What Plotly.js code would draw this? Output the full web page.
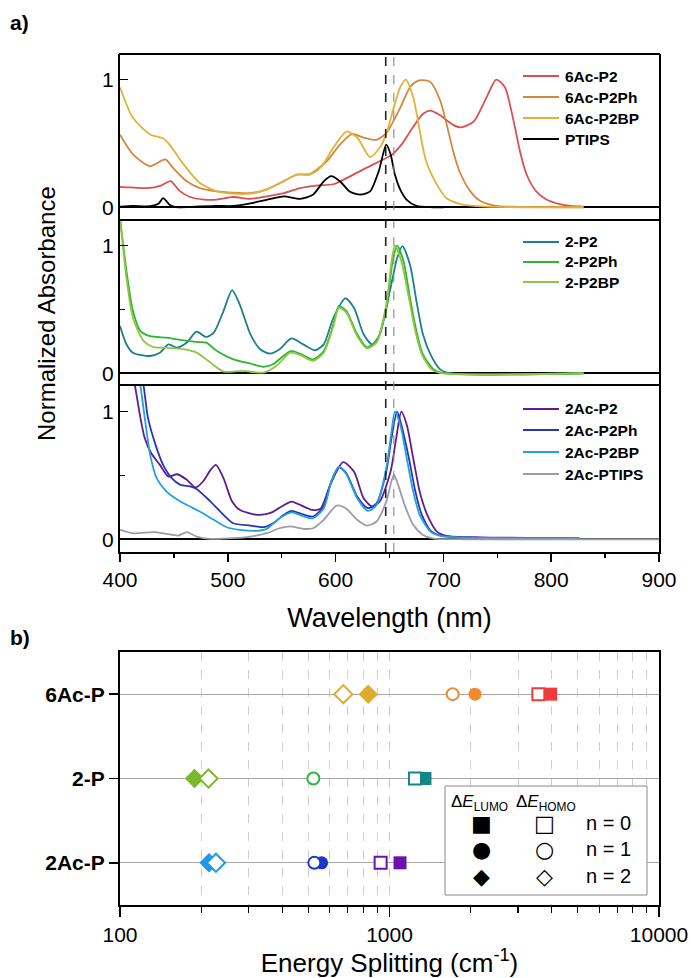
<!DOCTYPE html>
<html><head><meta charset="utf-8">
<script src="https://cdn.plot.ly/plotly-3.0.1.min.js"></script>
<style>html,body{margin:0;padding:0;background:#fff}#chart{width:691px;height:978px}</style>
</head><body><div id="chart"></div><script>
// ---------- Panel a data (wavelength nm / normalized absorbance) ----------
const wl_6AcP2   = [400,410,425,438,447,455,465,478,490,505,520,536,552,567,582,598,613,629,641,652,662,672,681,688,697,709,716,728,740,749,757,765,771,777,786,796,808,818,830];
const ab_6AcP2   = [0.16,0.155,0.15,0.17,0.205,0.13,0.08,0.06,0.06,0.08,0.065,0.085,0.11,0.15,0.17,0.18,0.24,0.31,0.36,0.41,0.50,0.63,0.73,0.757,0.72,0.645,0.625,0.67,0.86,1.0,0.94,0.68,0.44,0.26,0.125,0.058,0.024,0.01,0.005];
const wl_6AcP2Ph = [400,412,428,442,449,462,474,490,505,520,536,552,564,576,592,604,615,626,638,647,654,660,669,676,681,688,697,703,709,715,725,734,749,770,830];
const ab_6AcP2Ph = [0.567,0.414,0.322,0.375,0.31,0.203,0.15,0.125,0.115,0.11,0.14,0.205,0.255,0.26,0.362,0.49,0.573,0.546,0.528,0.58,0.68,0.78,0.94,0.99,0.995,0.98,0.836,0.65,0.44,0.28,0.124,0.05,0.01,0.003,0.0];
const wl_6AcP2BP = [400,412,428,440,446,459,474,490,505,521,536,552,564,576,586,598,610,620,632,641,647,654,660,665,672,678,684,694,703,718,740,830];
const ab_6AcP2BP = [0.94,0.70,0.57,0.54,0.49,0.335,0.19,0.124,0.106,0.106,0.138,0.203,0.256,0.256,0.31,0.467,0.593,0.546,0.393,0.467,0.573,0.78,0.94,1.0,0.862,0.6,0.36,0.177,0.07,0.02,0.005,0.0];
const wl_PTIPS   = [400,412,428,436,440,446,452,470,490,505,521,536,552,567,579,589,596,604,613,623,632,640,647,651,655,660,666,675,690,700];
const ab_PTIPS   = [0.005,0.01,0.008,0.03,0.071,0.02,0.0,0.005,0.01,0.01,0.03,0.058,0.085,0.066,0.098,0.203,0.243,0.203,0.124,0.098,0.124,0.282,0.49,0.415,0.256,0.138,0.058,0.01,0.0,0.0];

const wl_2P2   = [400,406,412,428,437,445,453,462,471,480,487,496,504,511,521,530,539,548,559,570,581,589,598,609,617,626,634,641,651,657,662,669,675,681,688,697,706,830];
const ab_2P2   = [0.37,0.227,0.16,0.135,0.16,0.226,0.2,0.24,0.325,0.284,0.318,0.487,0.651,0.54,0.305,0.188,0.153,0.188,0.273,0.226,0.18,0.226,0.434,0.586,0.513,0.305,0.226,0.305,0.669,0.90,0.995,0.85,0.565,0.305,0.148,0.03,0.0,0.0];
const wl_2P2Ph = [400,406,412,419,428,443,453,471,480,490,505,521,533,542,558,567,579,589,598,603,610,620,629,638,647,653,657,663,669,675,681,691,700,830];
const ab_2P2Ph = [1.22,0.8,0.487,0.33,0.29,0.278,0.265,0.245,0.24,0.174,0.109,0.075,0.05,0.07,0.174,0.153,0.109,0.174,0.383,0.526,0.487,0.305,0.205,0.252,0.513,0.88,1.0,0.877,0.59,0.33,0.148,0.03,0.0,0.0];
const wl_2P2BP = [400,406,412,422,431,443,459,471,484,496,514,533,545,558,567,579,589,598,603,610,620,629,638,647,652,655,661,668,674,680,689,698,830];
const ab_2P2BP = [1.22,0.747,0.434,0.252,0.205,0.2,0.188,0.161,0.083,0.013,0.018,0.005,0.057,0.161,0.143,0.096,0.161,0.37,0.513,0.474,0.291,0.195,0.24,0.539,0.88,1.0,0.877,0.59,0.33,0.148,0.03,0.0,0.0];

const wl_2AcP2    = [400,408,414,419,423,429,437,445,453,462,470,477,484,489,496,504,511,527,539,550,559,569,578,586,595,607,617,626,634,641,651,656,661,666,672,678,685,694,703,734,780,826];
const ab_2AcP2    = [1.9,1.45,1.196,0.948,0.79,0.673,0.582,0.491,0.509,0.465,0.405,0.452,0.543,0.582,0.478,0.295,0.23,0.191,0.204,0.256,0.295,0.261,0.23,0.238,0.426,0.603,0.53,0.321,0.256,0.295,0.53,0.78,1.0,0.896,0.634,0.374,0.191,0.06,0.027,0.015,0.01,0.008];
const wl_2AcP2Ph  = [400,412,422,426,433,440,448,456,465,471,484,496,505,521,533,542,552,559,569,579,589,596,603,610,620,630,638,647,652,657,661,668,674,680,689,699,730,826];
const ab_2AcP2Ph  = [2.5,1.7,1.196,0.948,0.739,0.582,0.478,0.426,0.413,0.394,0.295,0.191,0.125,0.107,0.094,0.125,0.191,0.222,0.196,0.178,0.256,0.452,0.564,0.517,0.334,0.243,0.282,0.53,0.8,1.0,0.896,0.634,0.374,0.191,0.06,0.027,0.012,0.008];
const wl_2AcP2BP  = [400,412,419,423,428,434,443,456,465,474,487,499,511,527,536,548,559,569,579,589,596,603,610,620,630,638,647,652,655,660,666,672,678,688,697,730,826];
const ab_2AcP2BP  = [2.2,1.5,1.196,0.948,0.661,0.478,0.374,0.295,0.256,0.217,0.152,0.094,0.074,0.066,0.081,0.164,0.211,0.183,0.164,0.243,0.452,0.569,0.509,0.321,0.222,0.269,0.556,0.85,1.0,0.896,0.634,0.374,0.191,0.06,0.027,0.012,0.008];
const wl_2AcPTIPS = [400,412,431,443,454,462,471,484,505,521,536,548,558,570,579,589,601,610,620,629,638,647,654,658,664,672,681,691,720,900];
const ab_2AcPTIPS = [0.074,0.047,0.055,0.042,0.029,0.055,0.021,0.003,0.008,0.021,0.047,0.086,0.1,0.081,0.086,0.152,0.264,0.238,0.152,0.107,0.139,0.295,0.504,0.426,0.269,0.113,0.034,0.005,0.0,0.0];

const wlTicks = [400,500,600,700,800,900];
const guideLines = [646.5, 654];

// ---------- Panel b data (energy splitting, cm^-1) ----------
const compounds = ['2Ac-P','2-P','6Ac-P'];   // bottom to top
const lumo_n0 = [1094, 1354, 3963];
const homo_n0 = [927, 1243, 3567];
const lumo_n1 = [560, 522, 2076];
const homo_n1 = [526, 522, 1716];
const lumo_n2 = [214, 189, 834];
const homo_n2 = [227, 213, 674];
const colors_n0 = ['#6a12b0', '#138787', '#ef3b3b'];
const colors_n1 = ['#1c36cf', '#2eb83e', '#f08a2e'];
const colors_n2 = ['#1e9be0', '#7ab82c', '#dcac2c'];

// ---------- layout helpers ----------
const W = 691, H = 978;
const px = x => x / W;
const py = y => 1 - y / H;
const FONT = 'Arial, "Liberation Sans", sans-serif';

function spec(name, wl, ab, color, yax) {
  return {type:'scatter', mode:'lines', name:name, x:wl, y:ab, xaxis:'x', yaxis:yax, showlegend:false,
    line:{color:color, width:1.8, shape:'spline', smoothing:0.7}, hoverinfo:'x+y+name'};
}

const panelSeries = [
  [spec('6Ac-P2', wl_6AcP2, ab_6AcP2, '#db4e52', 'y'),
   spec('6Ac-P2Ph', wl_6AcP2Ph, ab_6AcP2Ph, '#d4883e', 'y'),
   spec('6Ac-P2BP', wl_6AcP2BP, ab_6AcP2BP, '#e1b23a', 'y'),
   spec('PTIPS', wl_PTIPS, ab_PTIPS, '#000000', 'y')],
  [spec('2-P2', wl_2P2, ab_2P2, '#1b7f8c', 'y2'),
   spec('2-P2Ph', wl_2P2Ph, ab_2P2Ph, '#2fb534', 'y2'),
   spec('2-P2BP', wl_2P2BP, ab_2P2BP, '#8dc63f', 'y2')],
  [spec('2Ac-P2', wl_2AcP2, ab_2AcP2, '#5e1d91', 'y3'),
   spec('2Ac-P2Ph', wl_2AcP2Ph, ab_2AcP2Ph, '#2a35b5', 'y3'),
   spec('2Ac-P2BP', wl_2AcP2BP, ab_2AcP2BP, '#22a2dc', 'y3'),
   spec('2Ac-PTIPS', wl_2AcPTIPS, ab_2AcPTIPS, '#9b9bab', 'y3')]
];
const traces = [].concat(...panelSeries);

const yIdx = compounds.map((c, i) => i);
function pts(name, vals, colors, symbol, open, size) {
  return {type:'scatter', mode:'markers', name:name, x:vals, y:yIdx, xaxis:'x4', yaxis:'y4',
    showlegend:false, text:compounds, hoverinfo:'x+text+name',
    marker:{symbol:symbol, size:size, color: open ? '#ffffff' : colors,
      line:{color:colors, width: open ? 2 : 0}}};
}
traces.push(
  pts('ΔE_LUMO n=0', lumo_n0, colors_n0, 'square', false, 13),
  pts('ΔE_LUMO n=1', lumo_n1, colors_n1, 'circle', false, 13),
  pts('ΔE_LUMO n=2', lumo_n2, colors_n2, 'diamond', false, 15),
  pts('ΔE_HOMO n=0', homo_n0, colors_n0, 'square', true, 12),
  pts('ΔE_HOMO n=1', homo_n1, colors_n1, 'circle', true, 12),
  pts('ΔE_HOMO n=2', homo_n2, colors_n2, 'diamond', true, 14)
);

const xDom = [px(120), px(659)];
const pTop = [54, 220, 386, 552];
function yA(i) {
  const ax = {
    domain:[py(pTop[i+1]), py(pTop[i])], anchor:'x', range:[-0.1, 1.2], fixedrange:true,
    showline:true, linecolor:'#000', linewidth:2, mirror:true,
    ticks:'inside', ticklen:8, tickwidth:1.5, tickcolor:'#000',
    tickvals:[0,1], ticktext:['0','1'], tickfont:{family:FONT, size:21, color:'#000'},
    showgrid:false, zeroline:true, zerolinecolor:'#000', zerolinewidth:2.2
  };
  if (i > 0) ax.minor = {tickvals:[0.5], ticks:'inside', ticklen:5, tickwidth:1.5, tickcolor:'#000'};
  return ax;
}

const shapes = guideLines.map((g, i) => ({
  type:'line', xref:'x', yref:'paper', x0:g, x1:g, y0:py(552), y1:py(54),
  line:{color: i === 0 ? '#222' : '#888', width: i === 0 ? 1.6 : 1.1, dash:'dash'}, layer:'above'
}));
// frame lines of the upper panels (top of panel 1, panel 1 / panel 2 divider)
[54, 220].forEach(yy => shapes.push({type:'line', xref:'paper', yref:'paper', x0:px(119), x1:px(660),
  y0:py(yy), y1:py(yy), line:{color:'#000', width:2.2}, layer:'above'}));
// legend box in panel b
shapes.push({type:'rect', xref:'paper', yref:'paper',
  x0:px(445), x1:px(647), y0:py(895), y1:py(786),
  line:{color:'#8a8a8a', width:1}, fillcolor:'#ffffff', layer:'above'});

const annotations = [
  {text:'<b>a)</b>', xref:'paper', yref:'paper', x:px(8), y:py(22), xanchor:'left', yanchor:'middle', showarrow:false, font:{family:FONT, size:21, color:'#000'}},
  {text:'<b>b)</b>', xref:'paper', yref:'paper', x:px(8), y:py(637), xanchor:'left', yanchor:'middle', showarrow:false, font:{family:FONT, size:21, color:'#000'}},
  {text:'Normalized Absorbance', xref:'paper', yref:'paper', x:px(46), y:py(314), textangle:-90, xanchor:'center', yanchor:'middle', showarrow:false, font:{family:FONT, size:24, color:'#000'}},
];

// panel a legends (drawn from the traces' own names and colours)
const legendRows = [[76, 97, 118, 139], [242, 262, 282], [409, 430, 452, 474]];
panelSeries.forEach((group, gi) => {
  group.forEach((tr, k) => {
    const yy = legendRows[gi][k];
    shapes.push({type:'line', xref:'paper', yref:'paper', x0:px(523), x1:px(559), y0:py(yy), y1:py(yy),
      line:{color:tr.line.color, width:2.2}, layer:'above'});
    annotations.push({text:'<b>' + tr.name + '</b>', xref:'paper', yref:'paper', x:px(563), y:py(yy),
      xanchor:'left', yanchor:'middle', showarrow:false, font:{family:FONT, size:15.5, color:'#000'}});
  });
});

// panel b legend
annotations.push(
  {text:'Δ<i>E</i><sub>LUMO</sub>', xref:'paper', yref:'paper', x:px(479), y:py(803), xanchor:'center', yanchor:'middle', showarrow:false, font:{family:FONT, size:17, color:'#000'}},
  {text:'Δ<i>E</i><sub>HOMO</sub>', xref:'paper', yref:'paper', x:px(546), y:py(803), xanchor:'center', yanchor:'middle', showarrow:false, font:{family:FONT, size:17, color:'#000'}}
);
const legRows = [['■','□','n = 0', 823],['●','○','n = 1', 849],['◆','◇','n = 2', 876]];
legRows.forEach(r => {
  annotations.push({text:r[0], xref:'paper', yref:'paper', x:px(481), y:py(r[3]), xanchor:'center', yanchor:'middle', showarrow:false, font:{family:'DejaVu Sans', size:22, color:'#000'}});
  annotations.push({text:r[1], xref:'paper', yref:'paper', x:px(544), y:py(r[3]), xanchor:'center', yanchor:'middle', showarrow:false, font:{family:'DejaVu Sans', size:22, color:'#000'}});
  annotations.push({text:r[2], xref:'paper', yref:'paper', x:px(584), y:py(r[3]), xanchor:'left', yanchor:'middle', showarrow:false, font:{family:FONT, size:20, color:'#000'}});
});

const minorLog = [200,300,400,500,600,700,800,900,2000,3000,4000,5000,6000,7000,8000,9000];

const layout = {
  width:W, height:H, margin:{l:0, r:0, t:0, b:0}, paper_bgcolor:'#fff', plot_bgcolor:'rgba(0,0,0,0)',
  font:{family:FONT, color:'#000'}, showlegend:false,
  xaxis:{domain:xDom, anchor:'y3', range:[400,900], fixedrange:true,
    showline:true, linecolor:'#000', linewidth:2.2, mirror:true,
    ticks:'outside', ticklen:8, tickwidth:1.5, tickcolor:'#000', tickvals:wlTicks,
    tickfont:{family:FONT, size:21, color:'#000'},
    minor:{tickvals:[450,550,650,750,850], ticks:'outside', ticklen:4, tickwidth:1.5, tickcolor:'#000'},
    showgrid:false, zeroline:false,
    title:{text:'Wavelength (nm)', font:{family:FONT, size:27, color:'#000'}, standoff:18}},
  yaxis: yA(0), yaxis2: yA(1), yaxis3: yA(2),
  xaxis4:{domain:xDom, anchor:'y4', type:'log', range:[2,4], fixedrange:true,
    showline:true, linecolor:'#000', linewidth:2, mirror:true,
    ticks:'outside', ticklen:10, tickwidth:1.5, tickcolor:'#000',
    tickvals:[100,1000,10000], ticktext:['100','1000','10000'],
    tickfont:{family:FONT, size:21, color:'#000'},
    showgrid:true, gridcolor:'#c8c8c8', griddash:'dash', gridwidth:1,
    minor:{tickvals:minorLog, ticks:'outside', ticklen:6, tickwidth:1.2, tickcolor:'#000', showgrid:true, gridcolor:'#cfcfcf', griddash:'dash', gridwidth:1},
    zeroline:false,
    title:{text:'Energy Splitting (cm<sup>-1</sup>)', font:{family:FONT, size:26, color:'#000'}, standoff:8}},
  yaxis4:{domain:[py(905), py(652)], anchor:'x4', range:[-0.5,2.5], fixedrange:true,
    showline:true, linecolor:'#000', linewidth:2, mirror:true,
    ticks:'outside', ticklen:9, tickwidth:1.5, tickcolor:'#000',
    tickvals:yIdx, ticktext:compounds.map(c => '<b>' + c + '</b>'), tickfont:{family:FONT, size:21, color:'#000'},
    showgrid:true, gridcolor:'#a8a8a8', gridwidth:1, zeroline:false},
  shapes:shapes, annotations:annotations
};

Plotly.newPlot('chart', traces, layout, {displayModeBar:false, staticPlot:true});
</script></body></html>
